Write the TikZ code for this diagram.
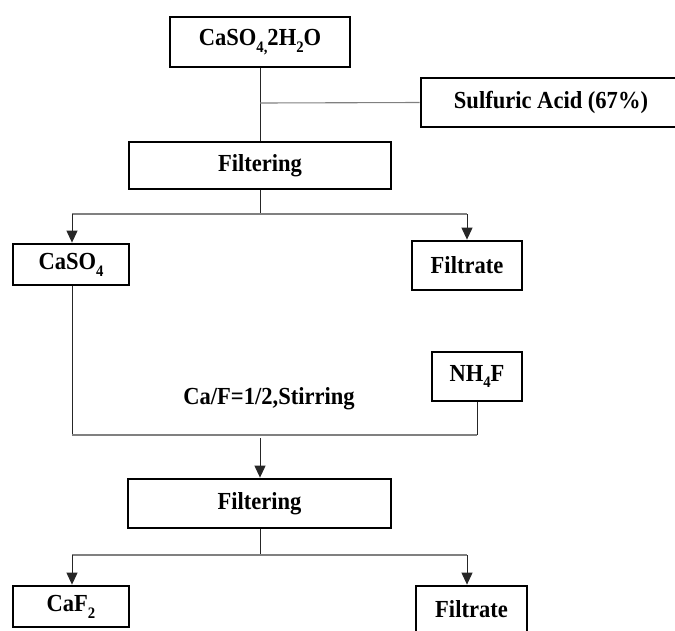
\documentclass[tikz,border=0pt]{standalone}
\usepackage{fontspec}
\setmainfont{Liberation Serif}[FakeStretch=0.92]
\usetikzlibrary{arrows.meta}
\newcommand{\mysub}[1]{\raisebox{-0.28em}{\fontsize{16}{16}\selectfont #1}}
\tikzset{
  boxnode/.style={draw=black, line width=2.8pt, rectangle, inner sep=0pt,
    font=\fontsize{24.5}{28}\selectfont\bfseries, text=black},
  vline/.style={draw=black!85, line width=1pt},
  hline/.style={draw=black!50, line width=1.1pt},
  arrowline/.style={draw=black!85, line width=1pt, -{Triangle[width=11pt,length=12pt]}},
  lbl/.style={font=\fontsize{24.5}{28}\selectfont\bfseries, text=black, inner sep=0pt}
}
\begin{document}
\begin{tikzpicture}[x=1pt,y=-1pt]
\useasboundingbox (0,0) rectangle (675,630);
\clip (0,0) rectangle (675,630);
\fill[white] (0,0) rectangle (675,630);
% boxes
\node[boxnode, minimum width=180pt, minimum height=50pt] (top) at (260,42) {CaSO\mysub{4,}2H\mysub{2}O};
\node[boxnode, minimum width=260pt, minimum height=49pt] (acid) at (551,102.5) {Sulfuric Acid (67\%)};
\node[boxnode, minimum width=262pt, minimum height=47pt] (filt1) at (260,165.5) {Filtering};
\node[boxnode, minimum width=116pt, minimum height=41pt] (caso) at (71,264.5) {CaSO\mysub{4}};
\node[boxnode, minimum width=110pt, minimum height=49pt] (fr1) at (467,265.5) {Filtrate};
\node[boxnode, minimum width=90pt, minimum height=49pt] (nh) at (477,376.5) {NH\mysub{4}F};
\node[lbl] (stir) at (269,399) {Ca/F=1/2,Stirring};
\node[boxnode, minimum width=263pt, minimum height=49pt] (filt2) at (259.5,503.5) {Filtering};
\node[boxnode, minimum width=116pt, minimum height=41pt] (caf) at (71,606.5) {CaF\mysub{2}};
\node[boxnode, minimum width=111pt, minimum height=46pt] (fr2) at (471.5,609) {Filtrate};
% coordinates
\coordinate (j1) at (260,103);
\coordinate (b1) at (260,214);
\coordinate (b1l) at (72,214);
\coordinate (b1r) at (467,214);
\coordinate (m1) at (72,435);
\coordinate (m2) at (477,435);
\coordinate (m3) at (260,438);
\coordinate (b2) at (260,555);
\coordinate (b2l) at (72,555);
\coordinate (b2r) at (467,555);
% connectors
\draw[vline] (top.south) -- (filt1.north);
\draw[hline] (j1) -- (acid.west);
\draw[vline] (filt1.south) -- (b1);
\draw[hline] (b1l) -- (b1r);
\draw[arrowline] (b1l) -- (caso.north -| b1l);
\draw[arrowline] (b1r) -- (fr1.north -| b1r);
\draw[vline] (caso.south -| m1) -- (m1);
\draw[hline] (m1) -- (m2);
\draw[vline] (m2) -- (nh.south -| m2);
\draw[arrowline] (m3) -- (filt2.north -| m3);
\draw[vline] (filt2.south -| b2) -- (b2);
\draw[hline] (b2l) -- (b2r);
\draw[arrowline] (b2l) -- (caf.north -| b2l);
\draw[arrowline] (b2r) -- (fr2.north -| b2r);
\end{tikzpicture}
\end{document}
